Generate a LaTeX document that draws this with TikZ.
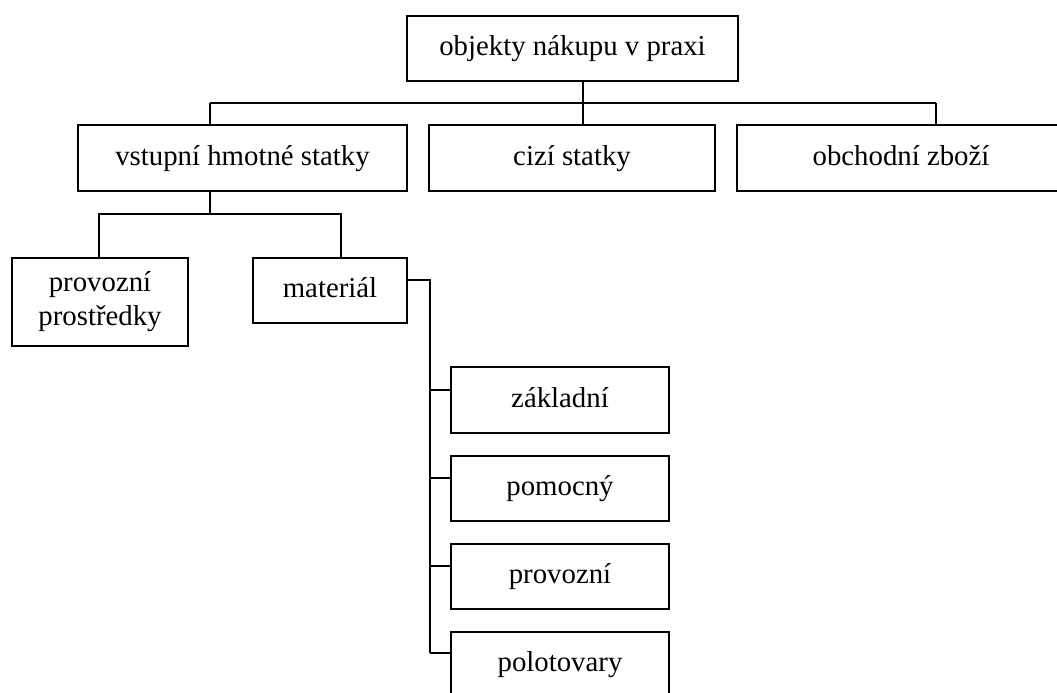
\documentclass[tikz,border=0pt]{standalone}
\usepackage{fontspec}
\setmainfont{Liberation Serif}
\begin{document}
\begin{tikzpicture}[x=1pt,y=-1pt,
  line width=1.3pt,
  plain/.style={draw, line width=1.3pt, inner sep=0pt, align=center,
    font=\fontsize{28.8}{34}\selectfont},
  box/.style={plain, text height=20pt, text depth=6pt},
  link/.style={line width=1.3pt}]
\useasboundingbox (0,0) rectangle (1057,693);

% boxes
\node[box, minimum width=331, minimum height=65] (top)  at (572.5,48.5) {objekty nákupu v praxi};
\node[box, minimum width=329, minimum height=66] (vst)  at (242.5,158) {vstupní hmotné statky};
\node[box, minimum width=286, minimum height=66] (cizi) at (572,158)   {cizí statky};
\node[box, minimum width=328, minimum height=66] (obch) at (901,158)   {obchodní zboží};
\node[plain, minimum width=176, minimum height=88] (prov) at (100,302)   {provozní\\prostředky};
\node[box, minimum width=154, minimum height=65] (mat)  at (330,290.5) {materiál};
\node[box, minimum width=218, minimum height=66] (zak)  at (560,400)   {základní};
\node[box, minimum width=218, minimum height=65] (pom)  at (560,488.5) {pomocný};
\node[box, minimum width=218, minimum height=65] (pro)  at (560,576.5) {provozní};
\node[box, minimum width=218, minimum height=65] (pol)  at (560,664.5) {polotovary};

% junction points
\coordinate (j1) at (210,103);
\coordinate (j2) at (583,103);
\coordinate (j3) at (936,103);
\coordinate (k0) at (210,214);
\coordinate (k1) at (99,214);
\coordinate (k2) at (341,214);
\coordinate (m0) at (430,280);
\coordinate (m1) at (430,390);
\coordinate (m2) at (430,478);
\coordinate (m3) at (430,566);
\coordinate (m4) at (430,653);

% first level
\draw[link] (j1) -- (j3);
\draw[link] (top.south -| j2) -- (j2) -- (cizi.north -| j2);
\draw[link] (j1) -- (vst.north -| j1);
\draw[link] (j3) -- (obch.north -| j3);

% second level
\draw[link] (vst.south -| k0) -- (k0);
\draw[link] (prov.north -| k1) -- (k1) -- (k2) -- (mat.north -| k2);

% material branches
\draw[link] (mat.east |- m0) -- (m0) -- (m4);
\draw[link] (m1) -- (zak.west |- m1);
\draw[link] (m2) -- (pom.west |- m2);
\draw[link] (m3) -- (pro.west |- m3);
\draw[link] (m4) -- (pol.west |- m4);
\end{tikzpicture}
\end{document}
